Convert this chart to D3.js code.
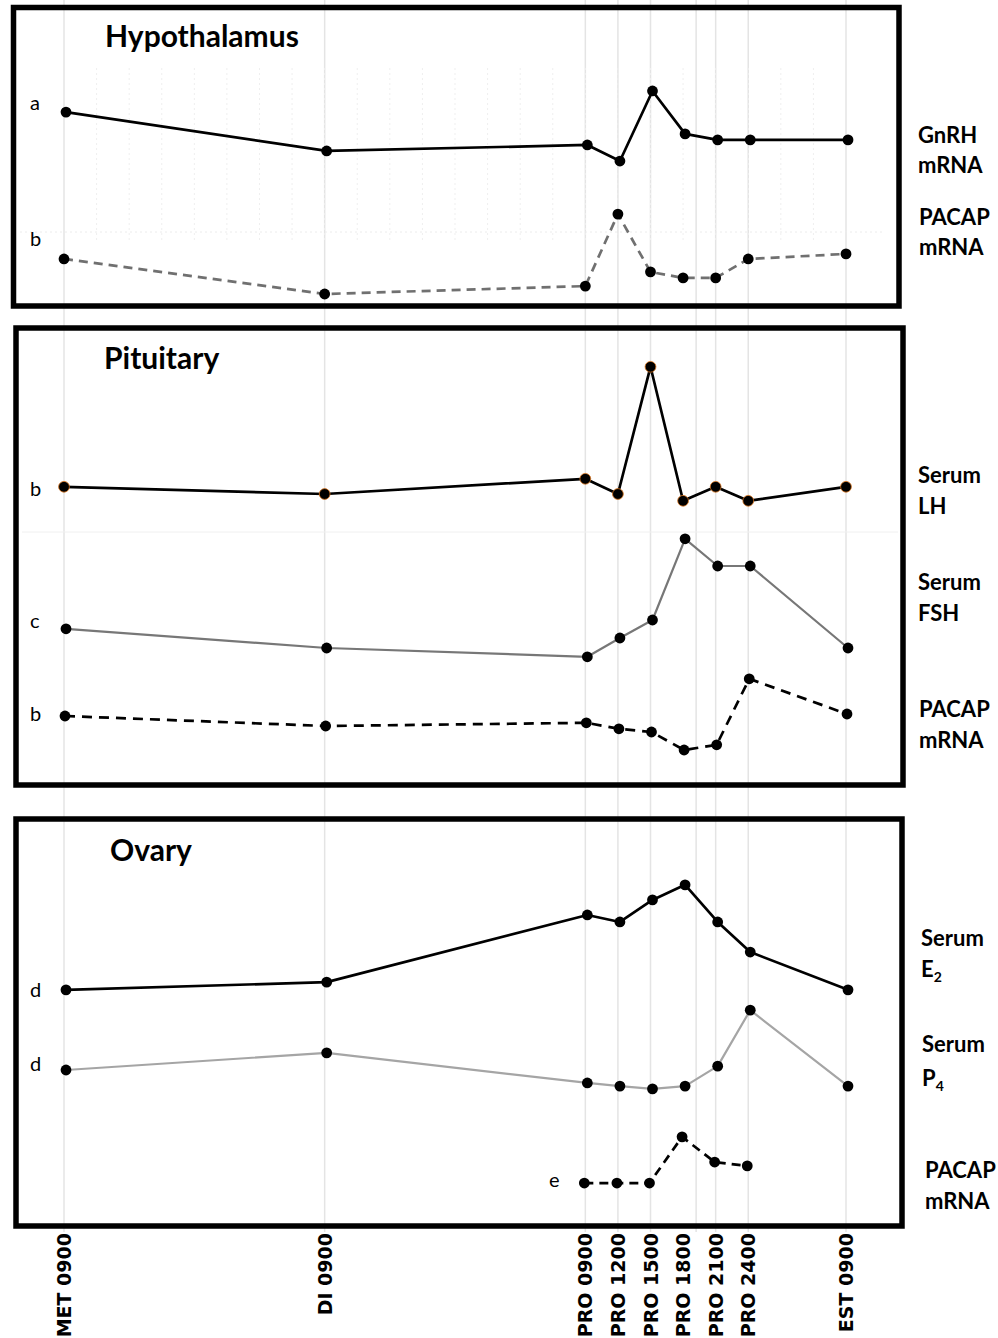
<!DOCTYPE html>
<html><head><meta charset="utf-8">
<script src="https://cdn.jsdelivr.net/npm/d3@7"></script>
<style>html,body{margin:0;padding:0;background:#fff;}svg{display:block;}</style>
</head><body>
<svg id="chart" width="998" height="1338"></svg>
<script>
// ---- data ----
const timeLabels = ["MET 0900","DI 0900","PRO 0900","PRO 1200","PRO 1500","PRO 1800","PRO 2100","PRO 2400","EST 0900"];
const hours      = [0, 24, 48, 51, 54, 57, 60, 63, 72];
const gridHours  = [0, 24, 48, 51, 54, 58.2, 60, 63, 72];

const hypGnRH   = [7.83, 6.21, 6.46, 5.79, 8.71, 6.92, 6.67, 6.67, 6.67];
const hypPACAP  = [1.71, 0.25, 0.58, 3.58, 1.17, 0.92, 0.92, 1.71, 1.92];
const pitLH     = [7.33, 7.15, 7.53, 7.15, 10.33, 6.98, 7.33, 6.98, 7.33];
const pitFSH    = [3.78, 3.30, 3.08, 3.55, 4.00, 6.03, 5.35, 5.35, 3.30];
const pitPACAP  = [1.60, 1.35, 1.43, 1.28, 1.20, 0.75, 0.88, 2.53, 1.65];
const ovE2      = [6.29, 6.51, 8.43, 8.23, 8.86, 9.29, 8.23, 7.37, 6.29];
const ovP4      = [4.00, 4.49, 3.63, 3.54, 3.46, 3.54, 4.11, 5.71, 3.54];
const ovPACAP   = [null, null, 0.77, 0.77, 0.77, 2.09, 1.37, 1.26, null];

const panelTitles = ["Hypothalamus", "Pituitary", "Ovary"];
const sigLetters = [["a","b"], ["b","c","b"], ["d","d","e"]];

// ---- drawing ----
const svg = d3.select("#chart");
const x = d3.scaleLinear().domain([0, 72]).range([64, 846]);
const FONT = "Lato, 'Open Sans', sans-serif";

// vertical light grid spanning figure
svg.append("g").selectAll("line").data(gridHours).join("line")
  .attr("x1", d => x(d)).attr("x2", d => x(d))
  .attr("y1", 0).attr("y2", 1232)
  .attr("stroke", "#e4e4e4").attr("stroke-width", 1.5);

// faint minor dotted grid in hypothalamus panel
svg.append("g").selectAll("line").data(d3.range(3, 72, 3)).join("line")
  .attr("x1", d => x(d)).attr("x2", d => x(d))
  .attr("y1", 68).attr("y2", 240)
  .attr("stroke", "#efefef").attr("stroke-width", 1).attr("stroke-dasharray", "2,3");
svg.append("line").attr("x1", 20).attr("x2", 885).attr("y1", 232).attr("y2", 232)
  .attr("stroke", "#ececec").attr("stroke-width", 1).attr("stroke-dasharray", "2,3");
svg.append("line").attr("x1", 22).attr("x2", 898).attr("y1", 532).attr("y2", 532)
  .attr("stroke", "#f0f0f0").attr("stroke-width", 1);

const panels = [
  { title: panelTitles[0], box: [13.5, 7.5, 899, 306], titlePos: [105, 47],
    y: d3.scaleLinear().domain([0, 10]).range([300, 60]),
    series: [
      { data: hypGnRH, color: "#000", width: 2.7, dash: null, dx: 2,
        label: ["GnRH", "mRNA"], lx: 918, ly: [143, 173], letter: sigLetters[0][0], letY: 110 },
      { data: hypPACAP, color: "#707070", width: 2.7, dash: "9,6", dx: 0,
        label: ["PACAP", "mRNA"], lx: 919, ly: [225, 255], letter: sigLetters[0][1], letY: 246 }
    ] },
  { title: panelTitles[1], box: [16, 328, 903, 785], titlePos: [104, 369],
    y: d3.scaleLinear().domain([0, 10]).range([780, 380]),
    series: [
      { data: pitLH, color: "#000", width: 2.7, dash: null, dx: 0, ring: "#d9731c",
        label: ["Serum", "LH"], lx: 918, ly: [483, 514], letter: sigLetters[1][0], letY: 496 },
      { data: pitFSH, color: "#777", width: 2.2, dash: null, dx: 2,
        label: ["Serum", "FSH"], lx: 918, ly: [590, 621], letter: sigLetters[1][1], letY: 628 },
      { data: pitPACAP, color: "#000", width: 2.7, dash: "10,7", dx: 1,
        label: ["PACAP", "mRNA"], lx: 919, ly: [717, 748], letter: sigLetters[1][2], letY: 721 }
    ] },
  { title: panelTitles[2], box: [16, 819, 902, 1226], titlePos: [110, 861],
    y: d3.scaleLinear().domain([0, 10]).range([1210, 860]),
    series: [
      { data: ovE2, color: "#000", width: 2.7, dash: null, dx: 2,
        label: ["Serum", "E", "2"], lx: 921, ly: [946, 977], letter: sigLetters[2][0], letY: 997 },
      { data: ovP4, color: "#a5a5a5", width: 2.2, dash: null, dx: 2,
        label: ["Serum", "P", "4"], lx: 922, ly: [1052, 1086], letter: sigLetters[2][1], letY: 1071 },
      { data: ovPACAP, color: "#000", width: 2.7, dash: "9,6", dx: -1,
        label: ["PACAP", "mRNA"], lx: 925, ly: [1178, 1209], letter: sigLetters[2][2], letY: 1187, letX: 549 }
    ] }
];

panels.forEach(p => {
  const g = svg.append("g");
  const [x0, y0, x1, y1] = p.box;
  g.append("rect").attr("x", x0).attr("y", y0).attr("width", x1 - x0).attr("height", y1 - y0)
    .attr("fill", "none").attr("stroke", "#000").attr("stroke-width", 5.5);
  g.append("text").attr("x", p.titlePos[0]).attr("y", p.titlePos[1])
    .attr("font-family", FONT).attr("font-weight", 700).attr("font-size", 30)
    .attr("fill", "#000").text(p.title);

  p.series.forEach(s => {
    const pts = hours.map((h, i) => ({ h, v: s.data[i] }));
    const line = d3.line().defined(d => d.v != null)
      .x(d => x(d.h) + s.dx).y(d => p.y(d.v));
    g.append("path").datum(pts).attr("d", line)
      .attr("fill", "none").attr("stroke", s.color).attr("stroke-width", s.width)
      .attr("stroke-dasharray", s.dash).attr("stroke-linejoin", "round");
    g.append("g").selectAll("circle").data(pts.filter(d => d.v != null)).join("circle")
      .attr("cx", d => x(d.h) + s.dx).attr("cy", d => p.y(d.v)).attr("r", 5.4)
      .attr("fill", "#000")
      .attr("stroke", s.ring || "none").attr("stroke-width", s.ring ? 0.8 : 0);

    // right label
    const t1 = g.append("text").attr("font-family", FONT).attr("font-weight", 700)
      .attr("font-size", 22).attr("fill", "#000");
    t1.append("tspan").attr("x", s.lx).attr("y", s.ly[0]).text(s.label[0]);
    const t2 = g.append("text").attr("font-family", FONT).attr("font-weight", 700)
      .attr("font-size", 22).attr("fill", "#000").attr("x", s.lx).attr("y", s.ly[1]);
    t2.append("tspan").text(s.label[1]);
    if (s.label[2]) {
      t2.append("tspan").attr("font-size", 14).attr("dy", 5).text(s.label[2]);
    }

    // significance letter
    g.append("text").attr("x", s.letX || 30).attr("y", s.letY)
      .attr("font-family", FONT).attr("font-size", 20).attr("fill", "#000")
      .text(s.letter);
  });
});

// x-axis tick labels (rotated)
svg.append("g").selectAll("text").data(timeLabels).join("text")
  .attr("transform", (d, i) => `translate(${x(hours[i]) + 7},1233) rotate(-90)`)
  .attr("text-anchor", "end")
  .attr("font-family", "'DejaVu Sans', sans-serif").attr("font-weight", 700)
  .attr("font-size", 19).attr("fill", "#000")
  .text(d => d);
</script>
</body></html>
